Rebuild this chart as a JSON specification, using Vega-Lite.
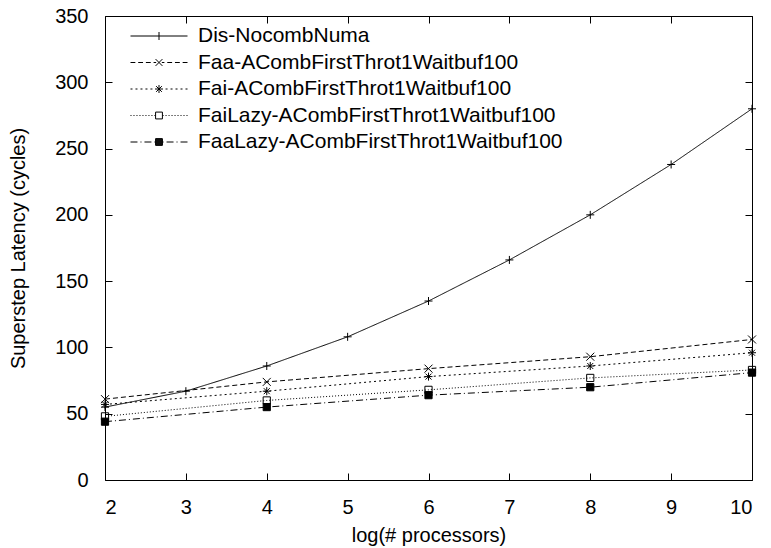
{
  "$schema": "https://vega.github.io/schema/vega-lite/v6.json",
  "width": 647,
  "height": 464,
  "autosize": "none",
  "padding": {"left": 105, "top": 16, "right": 19, "bottom": 68},
  "background": "white",
  "config": {
    "font": "Liberation Sans",
    "view": {"stroke": "#000", "strokeWidth": 1},
    "axis": {"grid": false, "domain": false, "tickColor": "#000", "tickSize": -7, "tickWidth": 1, "labelFontSize": 20, "labelColor": "#000", "labelPadding": 24, "titleFontSize": 20, "titleFontWeight": "normal", "titleColor": "#000"}
  },
  "data": {"values": [
    {"series": "Dis-NocombNuma", "x": 2, "y": 55},
    {"series": "Dis-NocombNuma", "x": 3, "y": 67},
    {"series": "Dis-NocombNuma", "x": 4, "y": 86},
    {"series": "Dis-NocombNuma", "x": 5, "y": 108},
    {"series": "Dis-NocombNuma", "x": 6, "y": 135},
    {"series": "Dis-NocombNuma", "x": 7, "y": 166},
    {"series": "Dis-NocombNuma", "x": 8, "y": 200},
    {"series": "Dis-NocombNuma", "x": 9, "y": 238},
    {"series": "Dis-NocombNuma", "x": 10, "y": 280},
    {"series": "Faa-ACombFirstThrot1Waitbuf100", "x": 2, "y": 61},
    {"series": "Faa-ACombFirstThrot1Waitbuf100", "x": 4, "y": 74},
    {"series": "Faa-ACombFirstThrot1Waitbuf100", "x": 6, "y": 84},
    {"series": "Faa-ACombFirstThrot1Waitbuf100", "x": 8, "y": 93},
    {"series": "Faa-ACombFirstThrot1Waitbuf100", "x": 10, "y": 106},
    {"series": "Fai-ACombFirstThrot1Waitbuf100", "x": 2, "y": 57},
    {"series": "Fai-ACombFirstThrot1Waitbuf100", "x": 4, "y": 67},
    {"series": "Fai-ACombFirstThrot1Waitbuf100", "x": 6, "y": 78},
    {"series": "Fai-ACombFirstThrot1Waitbuf100", "x": 8, "y": 86},
    {"series": "Fai-ACombFirstThrot1Waitbuf100", "x": 10, "y": 96},
    {"series": "FaiLazy-ACombFirstThrot1Waitbuf100", "x": 2, "y": 48},
    {"series": "FaiLazy-ACombFirstThrot1Waitbuf100", "x": 4, "y": 60},
    {"series": "FaiLazy-ACombFirstThrot1Waitbuf100", "x": 6, "y": 68},
    {"series": "FaiLazy-ACombFirstThrot1Waitbuf100", "x": 8, "y": 77},
    {"series": "FaiLazy-ACombFirstThrot1Waitbuf100", "x": 10, "y": 83},
    {"series": "FaaLazy-ACombFirstThrot1Waitbuf100", "x": 2, "y": 44},
    {"series": "FaaLazy-ACombFirstThrot1Waitbuf100", "x": 4, "y": 55},
    {"series": "FaaLazy-ACombFirstThrot1Waitbuf100", "x": 6, "y": 64},
    {"series": "FaaLazy-ACombFirstThrot1Waitbuf100", "x": 8, "y": 70},
    {"series": "FaaLazy-ACombFirstThrot1Waitbuf100", "x": 10, "y": 81}
  ]},
  "resolve": {"axis": {"x": "independent", "y": "independent"}, "scale": {"shape": "independent"}, "legend": {"shape": "independent"}},
  "layer": [
    {
      "mark": {"type": "line", "color": "#000", "strokeWidth": 1},
      "encoding": {
        "x": {"field": "x", "type": "quantitative", "scale": {"domain": [2, 10], "nice": false, "zero": false}, "axis": {"orient": "bottom", "values": [2,3,4,5,6,7,8,9,10], "title": "log(# processors)", "titlePadding": 8}},
        "y": {"field": "y", "type": "quantitative", "scale": {"domain": [0, 350], "nice": false}, "axis": {"orient": "left", "values": [0,50,100,150,200,250,300,350], "title": "Superstep Latency (cycles)", "titlePadding": 26}},
        "strokeDash": {
          "field": "series", "type": "nominal", "legend": null,
          "scale": {
            "domain": ["Dis-NocombNuma", "Faa-ACombFirstThrot1Waitbuf100", "Fai-ACombFirstThrot1Waitbuf100", "FaiLazy-ACombFirstThrot1Waitbuf100", "FaaLazy-ACombFirstThrot1Waitbuf100"],
            "range": [[1, 0], [5, 3], [2, 3], [1, 2], [7, 3, 1, 3]]
          }
        }
      }
    },
    {
      "mark": {"type": "point", "filled": false, "stroke": "#000", "strokeWidth": 1, "opacity": 1, "size": 64},
      "encoding": {
        "x": {"field": "x", "type": "quantitative", "axis": {"orient": "top", "values": [2,3,4,5,6,7,8,9,10], "labels": false, "title": null}},
        "y": {"field": "y", "type": "quantitative", "axis": {"orient": "right", "values": [0,50,100,150,200,250,300,350], "labels": false, "title": null}},
        "shape": {
          "field": "series", "type": "nominal", "legend": null,
          "scale": {
            "domain": ["Dis-NocombNuma", "Faa-ACombFirstThrot1Waitbuf100", "Fai-ACombFirstThrot1Waitbuf100", "FaiLazy-ACombFirstThrot1Waitbuf100", "FaaLazy-ACombFirstThrot1Waitbuf100"],
            "range": ["M-1,0H1M0,-1V1", "M-1,-1L1,1M-1,1L1,-1", "M-1,0H1M0,-1V1M-0.75,-0.75L0.75,0.75M-0.75,0.75L0.75,-0.75", "M-0.9,-0.9H0.9V0.9H-0.9Z", "M-0.9,-0.9H0.9V0.9H-0.9Z"]
          }
        },
        "fill": {
          "field": "series", "type": "nominal", "legend": null,
          "scale": {
            "domain": ["Dis-NocombNuma", "Faa-ACombFirstThrot1Waitbuf100", "Fai-ACombFirstThrot1Waitbuf100", "FaiLazy-ACombFirstThrot1Waitbuf100", "FaaLazy-ACombFirstThrot1Waitbuf100"],
            "range": ["transparent", "transparent", "transparent", "transparent", "#000"]
          }
        }
      }
    },
    {
      "mark": {"type": "point", "filled": false, "stroke": "#000", "strokeWidth": 1, "opacity": 0, "size": 3249},
      "encoding": {
        "x": {"field": "x", "type": "quantitative", "axis": null},
        "y": {"field": "y", "type": "quantitative", "axis": null},
        "shape": {
          "field": "series", "type": "nominal",
          "scale": {
            "domain": ["Dis-NocombNuma", "Faa-ACombFirstThrot1Waitbuf100", "Fai-ACombFirstThrot1Waitbuf100", "FaiLazy-ACombFirstThrot1Waitbuf100", "FaaLazy-ACombFirstThrot1Waitbuf100"],
            "range": [
              "M-1,0H1M0,-0.14V0.14",
              "M-1,0H-0.83M-0.73,0H-0.56M-0.46,0H-0.29M-0.19,0H-0.1M0.1,0H0.19M0.29,0H0.46M0.56,0H0.73M0.83,0H1M-0.12,-0.12L0.12,0.12M-0.12,0.12L0.12,-0.12",
              "M-1,0H-0.93M-0.825,0H-0.755M-0.65,0H-0.58M-0.475,0H-0.405M-0.3,0H-0.23M0.23,0H0.3M0.405,0H0.475M0.58,0H0.65M0.755,0H0.825M0.93,0H1M-0.14,0H0.14M0,-0.14V0.14M-0.1,-0.1L0.1,0.1M-0.1,0.1L0.1,-0.1",
              "M-1,0H-0.965M-0.895,0H-0.86M-0.79,0H-0.755M-0.685,0H-0.65M-0.58,0H-0.545M-0.475,0H-0.44M-0.37,0H-0.335M-0.265,0H-0.23M-0.16,0H-0.125M0.125,0H0.16M0.23,0H0.265M0.335,0H0.37M0.44,0H0.475M0.545,0H0.58M0.65,0H0.685M0.755,0H0.79M0.86,0H0.895M0.965,0H1M-0.12,-0.12H0.12V0.12H-0.12Z",
              "M-1,0H-0.755M-0.65,0H-0.615M-0.51,0H-0.265M-0.16,0H-0.125M0.125,0H0.16M0.265,0H0.51M0.615,0H0.65M0.755,0H1M-0.12,-0.12H0.12V0.12H-0.12ZM-0.12,-0.085H0.12M-0.12,-0.05H0.12M-0.12,-0.015H0.12M-0.12,0.02H0.12M-0.12,0.055H0.12M-0.12,0.09H0.12"
            ]
          },
          "legend": {
            "title": null, "orient": "none", "legendX": 25, "legendY": 10, "padding": 0,
            "labelFontSize": 21, "labelColor": "#000", "labelOffset": 10, "labelLimit": 500,
            "symbolSize": 3249, "clipHeight": 20, "rowPadding": 5.5, "symbolStrokeWidth": 1, "symbolStrokeColor": "#000", "symbolFillColor": "transparent", "symbolOpacity": 1
          }
        }
      }
    }
  ]
}
